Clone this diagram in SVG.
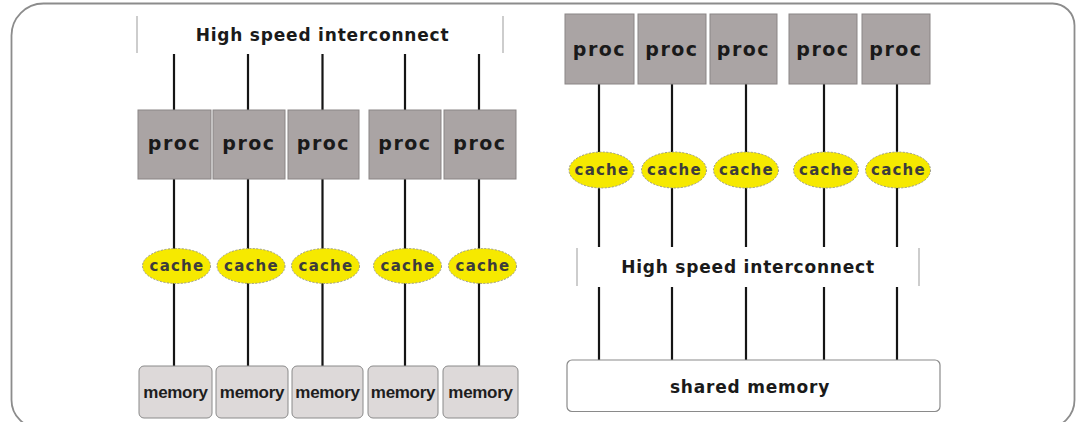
<svg xmlns="http://www.w3.org/2000/svg" width="1078" height="422" viewBox="0 0 1078 422">
<style>
.frame{fill:#ffffff;stroke:#8c8c8c;stroke-width:1.8}
.bar{stroke:#bdbdbd;stroke-width:1.5}
.wire{stroke:#151515;stroke-width:2.2;fill:none}
.proc{fill:#aaa4a4;stroke:#8a8585;stroke-width:1}
.cache{fill:#f6e900;stroke:#9a9a8a;stroke-width:1;stroke-dasharray:2 1.5}
.mem{fill:#ddd9d9;stroke:#8a8a8a;stroke-width:1}
.smem{fill:#ffffff;stroke:#8a8a8a;stroke-width:1.2}
.tp{font-family:"DejaVu Sans",sans-serif;font-weight:bold;font-size:19px;letter-spacing:1.5px;fill:#1a1a1a;text-anchor:middle}
.tc{font-family:"DejaVu Sans",sans-serif;font-weight:bold;font-size:15px;letter-spacing:1.2px;fill:#3c3c3c;text-anchor:middle}
.tm{font-family:"Liberation Sans",sans-serif;font-weight:bold;font-size:17px;letter-spacing:-0.3px;fill:#1e1e1e;text-anchor:middle}
.ti{font-family:"DejaVu Sans",sans-serif;font-weight:bold;font-size:17px;letter-spacing:0.8px;fill:#1a1a1a;text-anchor:middle}
</style>
<path class="frame" d="M11.5,36 A32,32 0 0 1 43.5,3.5 L1052,3.5 A22,22 0 0 1 1074.5,25.5 L1074.5,400 A28,28 0 0 1 1046.5,428 L40,428 A28,28 0 0 1 11.5,400 Z"/>

<g id="connectors">
<path class="wire" d="M174,54V110 M248,54V110 M322.5,54V110 M405,54V110 M479,54V110"/>
<path class="wire" d="M174,179V249 M248,179V249 M322.5,179V249 M405,179V249 M479,179V249"/>
<path class="wire" d="M174,283V366 M248,283V366 M322.5,283V366 M405,283V366 M479,283V366"/>
<path class="wire" d="M599,84V152 M672,84V152 M746,84V152 M824,84V152 M897,84V152"/>
<path class="wire" d="M599,188V247 M672,188V247 M746,188V247 M824,188V247 M897,188V247"/>
<path class="wire" d="M599,287V360 M672,287V360 M746,287V360 M824,287V360 M897,287V360"/>
</g>

<g id="interconnect-left">
<line class="bar" x1="137" y1="16" x2="137" y2="53"/>
<line class="bar" x1="503" y1="16" x2="503" y2="53"/>
<text class="ti" x="322.5" y="41">High speed interconnect</text>
</g>

<g id="proc-l1"><rect class="proc" x="138" y="110" width="73" height="69"/><text class="tp" x="174.5" y="150">proc</text></g>
<g id="proc-l2"><rect class="proc" x="213" y="110" width="72" height="69"/><text class="tp" x="249" y="150">proc</text></g>
<g id="proc-l3"><rect class="proc" x="288" y="110" width="71" height="69"/><text class="tp" x="323.5" y="150">proc</text></g>
<g id="proc-l4"><rect class="proc" x="369" y="110" width="72" height="69"/><text class="tp" x="405" y="150">proc</text></g>
<g id="proc-l5"><rect class="proc" x="444" y="110" width="72" height="69"/><text class="tp" x="480" y="150">proc</text></g>

<g id="cache-l1"><ellipse class="cache" cx="176.5" cy="266" rx="34" ry="17.5"/><text class="tc" x="177" y="271">cache</text></g>
<g id="cache-l2"><ellipse class="cache" cx="251" cy="266" rx="34" ry="17.5"/><text class="tc" x="251.5" y="271">cache</text></g>
<g id="cache-l3"><ellipse class="cache" cx="325.5" cy="266" rx="34" ry="17.5"/><text class="tc" x="326" y="271">cache</text></g>
<g id="cache-l4"><ellipse class="cache" cx="407.5" cy="266" rx="34" ry="17.5"/><text class="tc" x="408" y="271">cache</text></g>
<g id="cache-l5"><ellipse class="cache" cx="482.5" cy="266" rx="34" ry="17.5"/><text class="tc" x="483" y="271">cache</text></g>

<g id="mem-l1"><rect class="mem" x="139" y="366" width="73" height="52" rx="5"/><text class="tm" x="175.5" y="398">memory</text></g>
<g id="mem-l2"><rect class="mem" x="216" y="366" width="72" height="52" rx="5"/><text class="tm" x="252" y="398">memory</text></g>
<g id="mem-l3"><rect class="mem" x="292" y="366" width="71" height="52" rx="5"/><text class="tm" x="327.5" y="398">memory</text></g>
<g id="mem-l4"><rect class="mem" x="368" y="366" width="70" height="52" rx="5"/><text class="tm" x="403" y="398">memory</text></g>
<g id="mem-l5"><rect class="mem" x="443" y="366" width="75" height="52" rx="5"/><text class="tm" x="480.5" y="398">memory</text></g>

<g id="proc-r1"><rect class="proc" x="565" y="14" width="69" height="70"/><text class="tp" x="599.5" y="56">proc</text></g>
<g id="proc-r2"><rect class="proc" x="638" y="14" width="68" height="70"/><text class="tp" x="672" y="56">proc</text></g>
<g id="proc-r3"><rect class="proc" x="710" y="14" width="67" height="70"/><text class="tp" x="743.5" y="56">proc</text></g>
<g id="proc-r4"><rect class="proc" x="789" y="14" width="68" height="70"/><text class="tp" x="823" y="56">proc</text></g>
<g id="proc-r5"><rect class="proc" x="862" y="14" width="68" height="70"/><text class="tp" x="896" y="56">proc</text></g>

<g id="cache-r1"><ellipse class="cache" cx="601.5" cy="170" rx="32.5" ry="18"/><text class="tc" x="602" y="175">cache</text></g>
<g id="cache-r2"><ellipse class="cache" cx="674" cy="170" rx="32.5" ry="18"/><text class="tc" x="674.5" y="175">cache</text></g>
<g id="cache-r3"><ellipse class="cache" cx="746" cy="170" rx="32.5" ry="18"/><text class="tc" x="746.5" y="175">cache</text></g>
<g id="cache-r4"><ellipse class="cache" cx="826" cy="170" rx="32.5" ry="18"/><text class="tc" x="826.5" y="175">cache</text></g>
<g id="cache-r5"><ellipse class="cache" cx="898" cy="170" rx="32.5" ry="18"/><text class="tc" x="898.5" y="175">cache</text></g>

<g id="interconnect-right">
<line class="bar" x1="577" y1="248" x2="577" y2="286"/>
<line class="bar" x1="919" y1="248" x2="919" y2="286"/>
<text class="ti" x="748" y="273">High speed interconnect</text>
</g>

<g id="shared-memory">
<rect class="smem" x="567" y="360" width="373" height="51.5" rx="5"/>
<text class="ti" x="750" y="393">shared memory</text>
</g>
</svg>
